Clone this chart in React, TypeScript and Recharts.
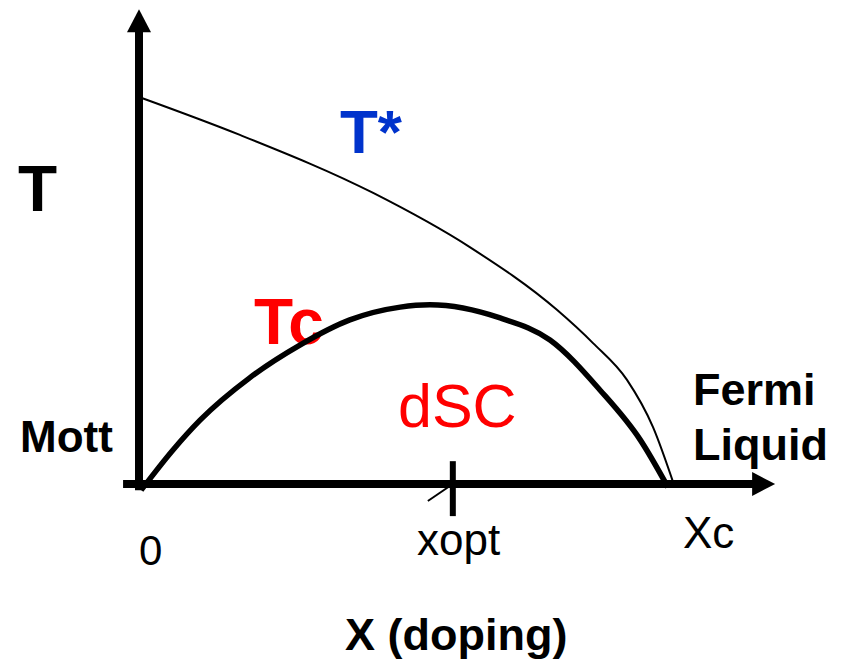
import React from "react";
import {
  ComposedChart,
  Line,
  XAxis,
  YAxis,
  ReferenceLine,
  ReferenceDot,
  Customized
} from "recharts";

// doping x (Xc = 1) and temperature T (T* at x=0 is 1)
const tStarX = [0, 0.19, 0.441, 0.623, 0.787, 0.855, 0.919, 0.968, 1.009];
const tStarT = [1.0, 0.902, 0.752, 0.612, 0.45, 0.364, 0.269, 0.147, -0.008];

const tcX = [0.004, 0.064, 0.115, 0.209, 0.303, 0.397, 0.492, 0.548, 0.68, 0.774, 0.868, 0.944, 0.996];
const tcT = [-0.016, 0.088, 0.165, 0.275, 0.359, 0.424, 0.457, 0.463, 0.429, 0.372, 0.243, 0.114, -0.008];

const xOpt = 0.591;

const tStarData = tStarX.map((x, i) => ({ x, t: tStarT[i] }));
const tcData = tcX.map((x, i) => ({ x, t: tcT[i] }));

const FONT = "'Liberation Sans', Arial, Helvetica, sans-serif";

const labels = [
  { text: "T", x: 18, y: 211, size: 64, bold: true, color: "#000" },
  { text: "T*", x: 340, y: 153, size: 62, bold: true, color: "#0033cc" },
  { text: "Tc", x: 254, y: 344, size: 64, bold: true, color: "#ff0000" },
  { text: "dSC", x: 398, y: 427, size: 61, bold: false, color: "#ff0000" },
  { text: "Mott", x: 20, y: 452, size: 44, bold: true, color: "#000" },
  { text: "Fermi", x: 693, y: 405, size: 45, bold: true, color: "#000" },
  { text: "Liquid", x: 693, y: 460, size: 45, bold: true, color: "#000" },
  { text: "0", x: 139, y: 565, size: 42, bold: false, color: "#000" },
  { text: "xopt", x: 417, y: 555, size: 44, bold: false, color: "#000" },
  { text: "Xc", x: 683, y: 548, size: 44, bold: false, color: "#000" },
  { text: "X (doping)", x: 345, y: 650, size: 45, bold: true, color: "#000" }
];

const Labels = () => (
  <g>
    {labels.map((l) => (
      <text
        key={l.text}
        x={l.x}
        y={l.y}
        fill={l.color}
        fontSize={l.size}
        fontWeight={l.bold ? 700 : 400}
        fontFamily={FONT}
      >
        {l.text}
      </text>
    ))}
  </g>
);

const UpArrow = (props: any) => {
  const { cx, cy } = props;
  return <polygon points={`${cx},${cy} ${cx - 12},${cy + 23} ${cx + 12},${cy + 23}`} fill="#000" />;
};

const RightArrow = (props: any) => {
  const { cx, cy } = props;
  return <polygon points={`${cx},${cy} ${cx - 23},${cy - 12} ${cx - 23},${cy + 12}`} fill="#000" />;
};

export default function App() {
  return (
    <div style={{ position: "absolute", left: 0, top: 0, width: 848, height: 663, background: "#fff" }}>
      <ComposedChart
        width={848}
        height={663}
        margin={{ top: 0.25, right: 71.8, bottom: 140.3, left: 123.07 }}
      >
        <XAxis type="number" dataKey="x" domain={[-0.03, 1.2]} hide allowDataOverflow />
        <YAxis type="number" dataKey="t" domain={[-0.1, 1.25]} hide allowDataOverflow />

        {/* axes */}
        <ReferenceLine segment={[{ x: -0.03, y: 0 }, { x: 1.16, y: 0 }]} stroke="#000" strokeWidth={8} />
        <ReferenceLine segment={[{ x: 0, y: -0.016 }, { x: 0, y: 1.18 }]} stroke="#000" strokeWidth={8} />
        <ReferenceDot x={1.198} y={0} r={1} shape={RightArrow} />
        <ReferenceDot x={0} y={1.227} r={1} shape={UpArrow} />

        {/* xopt tick and the little stray stroke */}
        <ReferenceLine segment={[{ x: xOpt, y: 0.059 }, { x: xOpt, y: -0.083 }]} stroke="#000" strokeWidth={6} />
        <ReferenceLine segment={[{ x: 0.544, y: -0.044 }, { x: xOpt, y: 0 }]} stroke="#000" strokeWidth={2} />

        <Line
          data={tStarData}
          dataKey="t"
          type="monotone"
          stroke="#000"
          strokeWidth={2}
          dot={false}
          isAnimationActive={false}
        />
        <Line
          data={tcData}
          dataKey="t"
          type="monotone"
          stroke="#000"
          strokeWidth={5.5}
          dot={false}
          isAnimationActive={false}
        />

        <Customized component={Labels} />
      </ComposedChart>
    </div>
  );
}
